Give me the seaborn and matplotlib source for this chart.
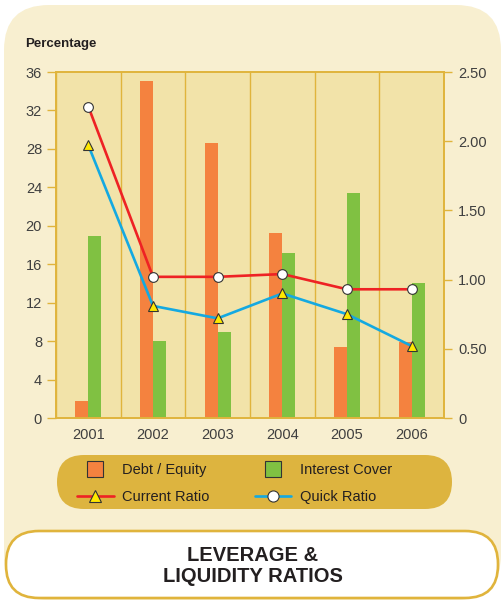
import numpy as np
import pandas as pd
import matplotlib
matplotlib.use('Agg')
import matplotlib.pyplot as plt
import seaborn as sns
from matplotlib.patches import FancyBboxPatch
from matplotlib.lines import Line2D

# data
years = ['2001', '2002', '2003', '2004', '2005', '2006']
debt_equity = [1.8, 35.1, 28.6, 19.3, 7.4, 7.9]
interest_cover = [18.9, 8.0, 8.9, 17.2, 23.4, 14.0]
current_ratio = [2.25, 1.02, 1.02, 1.04, 0.93, 0.93]
quick_ratio = [1.97, 0.81, 0.72, 0.90, 0.75, 0.52]
left_ticks = [0, 4, 8, 12, 16, 20, 24, 28, 32, 36]
right_ticks = [0, 0.5, 1.0, 1.5, 2.0, 2.5]
right_labels = ['0', '0.50', '1.00', '1.50', '2.00', '2.50']

# colours
ORANGE = '#F4823F'
GREEN = '#80C142'
RED = '#EE2224'
BLUE = '#14A9E1'
YELLOW = '#FFE800'
GOLD = '#E0B43C'
PILL = '#DDB43F'
PLOT_BG = '#F2E3A9'
PANEL_BG = '#F8EFD0'
TEXT = '#3F3F3F'

sns.set_style('white')
plt.rcParams['font.family'] = ['Liberation Sans', 'DejaVu Sans']

W, H = 501, 607
fig = plt.figure(figsize=(W / 100, H / 100), dpi=100)

# background layer in pixel coordinates
bg = fig.add_axes([0, 0, 1, 1], zorder=0)
bg.set_xlim(0, W)
bg.set_ylim(H, 0)
bg.axis('off')
bg.add_patch(FancyBboxPatch((4, 5), 497, 595, boxstyle='round,pad=0,rounding_size=45',
                            facecolor=PANEL_BG, edgecolor='none'))
bg.add_patch(FancyBboxPatch((57, 455), 395, 54, boxstyle='round,pad=0,rounding_size=27',
                            facecolor=PILL, edgecolor='none'))
bg.add_patch(FancyBboxPatch((6, 531), 492, 67, boxstyle='round,pad=0,rounding_size=33',
                            facecolor='white', edgecolor=GOLD, linewidth=1.9))
bg.text(253, 566, 'LEVERAGE &\nLIQUIDITY RATIOS', ha='center', va='center',
        fontsize=14.5, fontweight='bold', color='#231F20', linespacing=1.12)
bg.text(25, 44, 'Percentage', ha='left', va='center', fontsize=9.5,
        fontweight='bold', color='#231F20')

# main chart
ax = fig.add_axes([56 / W, 1 - 418 / H, 388 / W, 346 / H], zorder=1)
ax.set_facecolor(PLOT_BG)

df = pd.DataFrame({
    'Year': years * 2,
    'Value': debt_equity + interest_cover,
    'Series': ['Debt / Equity'] * len(years) + ['Interest Cover'] * len(years),
})
sns.barplot(data=df, x='Year', y='Value', hue='Series', palette=[ORANGE, GREEN],
            width=0.4, saturation=1, linewidth=0, legend=False, ax=ax, zorder=2)

ax.set_xlim(-0.5, len(years) - 0.5)
ax.set_ylim(0, 36)
ax.set_yticks(left_ticks)
ax.set_xlabel('')
ax.set_ylabel('')
ax.set_xticks(list(np.arange(len(years)) - 0.5) + [len(years) - 0.5], minor=True)
ax.grid(which='minor', axis='x', color=GOLD, linewidth=1.0, zorder=0)
ax.set_axisbelow(True)
ax.tick_params(axis='x', which='major', length=0, pad=7, labelsize=10.5, labelcolor=TEXT)
ax.tick_params(axis='x', which='minor', length=6.5, width=1, color=GOLD, direction='out')
ax.tick_params(axis='y', which='major', left=True, length=6.5, width=1, color=GOLD,
               pad=3.5, labelsize=10.5, labelcolor=TEXT, direction='out')
for s in ax.spines.values():
    s.set_color(GOLD)
    s.set_linewidth(1.2)

# ratio lines on the secondary axis
ax2 = ax.twinx()
ax2.set_ylim(0, 2.5)
xpos = np.arange(len(years))
sns.lineplot(x=xpos, y=current_ratio, color=RED, linewidth=1.9, marker='o',
             markersize=7, markerfacecolor='white', markeredgecolor='#333333',
             markeredgewidth=0.8, ax=ax2, zorder=3)
sns.lineplot(x=xpos, y=quick_ratio, color=BLUE, linewidth=1.9, marker='^',
             markersize=7, markerfacecolor=YELLOW, markeredgecolor='#333333',
             markeredgewidth=0.8, ax=ax2, zorder=3)
ax2.set_yticks(right_ticks)
ax2.set_yticklabels(right_labels)
ax2.tick_params(axis='y', right=True, length=6, width=1, color=GOLD, pad=4,
                labelsize=10.5, labelcolor=TEXT, direction='out')
for s in ax2.spines.values():
    s.set_color(GOLD)
    s.set_linewidth(1.2)
ax2.set_xlim(-0.5, len(years) - 0.5)

# legend (kept as in the reference)
handles = [
    Line2D([], [], linestyle='none', marker='s', markersize=11, markerfacecolor=ORANGE,
           markeredgecolor='#333333', markeredgewidth=0.8),
    Line2D([], [], color=RED, linewidth=1.9, marker='^', markersize=9,
           markerfacecolor=YELLOW, markeredgecolor='#333333', markeredgewidth=0.8),
    Line2D([], [], linestyle='none', marker='s', markersize=11, markerfacecolor=GREEN,
           markeredgecolor='#333333', markeredgewidth=0.8),
    Line2D([], [], color=BLUE, linewidth=1.9, marker='o', markersize=8,
           markerfacecolor='white', markeredgecolor='#333333', markeredgewidth=0.8),
]
labels = ['Debt / Equity', 'Current Ratio', 'Interest Cover', 'Quick Ratio']
fig.legend(handles, labels, ncol=2, loc='upper left',
           bbox_to_anchor=(64 / W, 1 - 450 / H), frameon=False, fontsize=10.5,
           handlelength=2.5, handletextpad=0.6, columnspacing=3.1, labelspacing=0.9,
           labelcolor='#231F20')

fig.savefig('out.png', dpi=100)
